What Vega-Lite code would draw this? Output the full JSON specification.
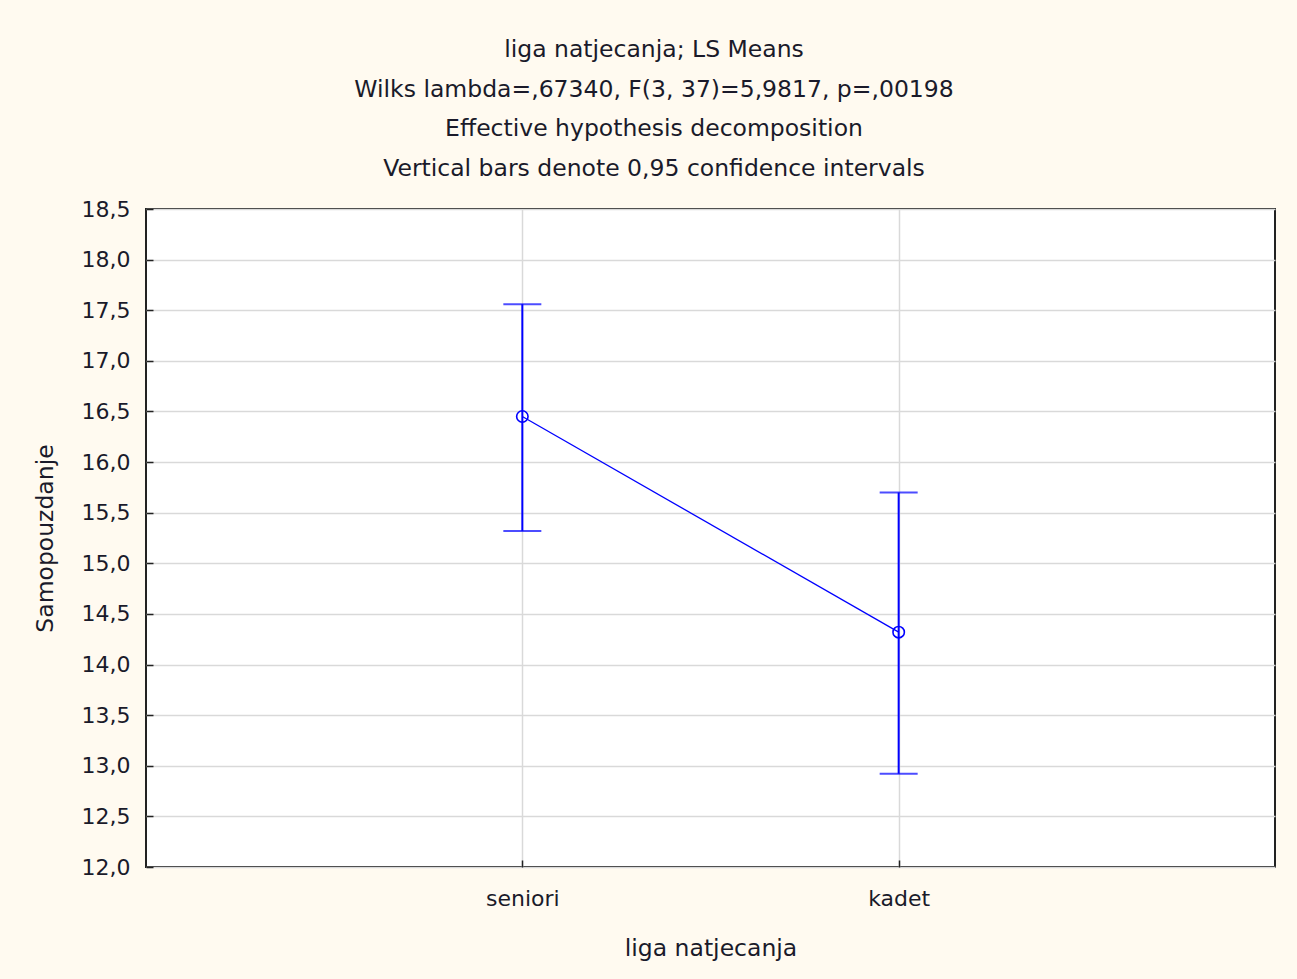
{
  "$schema": "https://vega.github.io/schema/vega-lite/v6.json",
  "width": 1129,
  "height": 658,
  "autosize": {"type": "none"},
  "padding": {"left": 146, "top": 209, "right": 22, "bottom": 112},
  "background": "#fffaf0",
  "title": {
    "text": ["liga natjecanja; LS Means", "Wilks lambda=,67340, F(3, 37)=5,9817, p=,00198", "Effective hypothesis decomposition", "Vertical bars denote 0,95 confidence intervals"],
    "anchor": "middle",
    "frame": "bounds",
    "font": "DejaVu Sans",
    "fontSize": 23.5,
    "fontWeight": "normal",
    "color": "#1a1a2a",
    "lineHeight": 39.5,
    "offset": 18
  },
  "data": {
    "values": [
      {"liga": "seniori", "mean": 16.45, "lo": 15.32, "hi": 17.56},
      {"liga": "kadet", "mean": 14.32, "lo": 12.92, "hi": 15.7}
    ]
  },
  "encoding": {
    "x": {
      "field": "liga",
      "type": "nominal",
      "sort": ["seniori", "kadet"],
      "scale": {"type": "point", "padding": 1},
      "title": "liga natjecanja",
      "axis": {"labelAngle": 0, "grid": true, "labelPadding": 28, "titlePadding": 27}
    }
  },
  "layer": [
    {
      "mark": {"type": "rule", "color": "#0000ff", "strokeWidth": 2},
      "encoding": {
        "y": {
          "field": "lo",
          "type": "quantitative",
          "title": "Samopouzdanje",
          "scale": {"domain": [12, 18.5], "nice": false, "zero": false},
          "axis": {
            "values": [12, 12.5, 13, 13.5, 14, 14.5, 15, 15.5, 16, 16.5, 17, 17.5, 18, 18.5],
            "labelExpr": "replace(format(datum.value, '.1f'), '.', ',')",
            "labelPadding": 23,
            "titlePadding": 24,
            "grid": true
          }
        },
        "y2": {"field": "hi"}
      }
    },
    {
      "mark": {"type": "tick", "color": "#0000ff", "size": 38, "thickness": 2, "orient": "horizontal"},
      "encoding": {"y": {"field": "lo", "type": "quantitative", "title": "Samopouzdanje"}}
    },
    {
      "mark": {"type": "tick", "color": "#0000ff", "size": 38, "thickness": 2, "orient": "horizontal"},
      "encoding": {"y": {"field": "hi", "type": "quantitative", "title": "Samopouzdanje"}}
    },
    {
      "mark": {"type": "line", "color": "#0000ff", "strokeWidth": 1.3},
      "encoding": {"y": {"field": "mean", "type": "quantitative", "title": "Samopouzdanje"}}
    },
    {
      "mark": {"type": "point", "shape": "circle", "filled": false, "color": "#0000ff", "size": 130, "strokeWidth": 1.6, "opacity": 1},
      "encoding": {"y": {"field": "mean", "type": "quantitative", "title": "Samopouzdanje"}}
    }
  ],
  "config": {
    "view": {"fill": "#ffffff", "stroke": "#222222", "strokeWidth": 2},
    "axis": {
      "labelFont": "DejaVu Sans",
      "labelFontSize": 22,
      "labelColor": "#1a1a2a",
      "titleFont": "DejaVu Sans",
      "titleFontSize": 23.5,
      "titleFontWeight": "normal",
      "titleColor": "#1a1a2a",
      "gridColor": "#d9d9d9",
      "gridWidth": 1.5,
      "domain": false,
      "tickColor": "#222222",
      "tickSize": -7,
      "tickWidth": 1.5
    }
  }
}
